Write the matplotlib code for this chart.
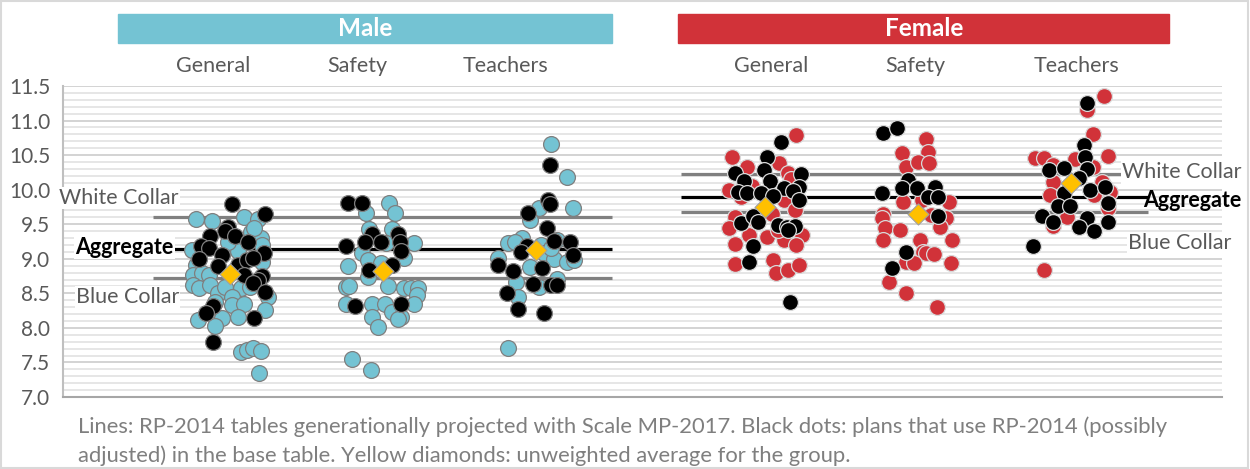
import numpy as np
import matplotlib.pyplot as plt
from matplotlib.patches import Rectangle
from matplotlib.transforms import blended_transform_factory

plt.rcParams['font.family'] = ['Lato', 'DejaVu Sans']

# Grupos y categorias
genders = ['Male', 'Female']
categories = ['General', 'Safety', 'Teachers']

# Lineas de referencia RP-2014 (White Collar, Aggregate, Blue Collar)
male_white, male_agg, male_blue = 9.61, 9.14, 8.72
female_white, female_agg, female_blue = 10.23, 9.90, 9.67

# Promedios no ponderados (rombos amarillos)
male_avg = [8.78, 8.82, 9.13]
female_avg = [9.75, 9.65, 10.10]

# --- Male General ---
mg_col_off = [-0.22, -0.12, 0.09, 0.18, 0.14, 0.20, 0.21, -0.25, 0.05, 0.21, -0.22, -0.24, -0.18, -0.14,
              -0.24, -0.20, -0.13, -0.08, -0.03, 0.07, 0.01, 0.13, 0.25, -0.10, 0.01, 0.09, 0.23, -0.21,
              -0.05, 0.05, -0.10, 0.07, 0.11, 0.15, 0.20, 0.19, -0.01, 0.16]
mg_col_val = [9.58, 9.55, 9.60, 9.58, 9.39, 9.30, 9.20, 9.13, 9.11, 8.95, 8.91, 8.76, 8.79, 8.76,
              8.62, 8.58, 8.62, 8.50, 8.59, 8.58, 8.45, 8.59, 8.45, 8.37, 8.33, 8.34, 8.26, 8.11,
              8.14, 8.16, 8.03, 7.65, 7.68, 7.71, 7.67, 7.35, 9.25, 9.45]
mg_blk_off = [0.01, 0.23, -0.01, -0.03, 0.03, -0.13, 0.12, -0.19, -0.14, 0.22, -0.05, -0.20, -0.08,
              0.05, 0.11, 0.15, 0.09, 0.21, 0.18, 0.15, 0.23, -0.11, -0.16, 0.16, -0.11]
mg_blk_val = [9.80, 9.65, 9.46, 9.40, 9.33, 9.33, 9.24, 9.19, 9.16, 9.09, 9.05, 8.99, 8.90,
              8.91, 8.98, 9.01, 8.76, 8.75, 8.69, 8.65, 8.52, 8.31, 8.22, 8.14, 7.80]

# --- Male Safety ---
ms_col_off = [0.04, -0.11, 0.08, -0.09, 0.06, 0.20, -0.14, 0.02, -0.10, 0.14, -0.23, -0.01, -0.10,
              -0.24, -0.22, 0.03, 0.14, 0.18, 0.23, 0.22, -0.24, -0.07, 0.01, 0.20, 0.06, -0.07,
              0.12, 0.10, -0.03, -0.20, -0.08]
ms_col_val = [9.81, 9.66, 9.66, 9.43, 9.43, 9.23, 9.08, 9.23, 8.98, 9.01, 8.90, 8.94, 8.74,
              8.59, 8.61, 8.61, 8.58, 8.58, 8.58, 8.48, 8.35, 8.35, 8.35, 8.35, 8.23, 8.16,
              8.16, 8.13, 8.01, 7.55, 7.39]
ms_blk_off = [-0.23, -0.14, -0.07, 0.10, -0.24, -0.12, -0.01, 0.11, 0.12, 0.06, -0.09, -0.18, 0.12]
ms_blk_val = [9.81, 9.81, 9.36, 9.36, 9.18, 9.24, 9.24, 9.24, 9.11, 8.91, 8.84, 8.32, 8.35]

# --- Male Teachers ---
mt_col_off = [0.10, 0.20, 0.02, -0.04, 0.24, -0.18, -0.09, 0.03, 0.05, 0.14, 0.12, 0.20, 0.25,
              -0.25, -0.04, -0.13, 0.02, 0.14, -0.12, -0.18, -0.14, 0.10]
mt_col_val = [10.66, 10.18, 9.73, 9.56, 9.73, 9.23, 9.30, 9.20, 9.08, 9.27, 8.99, 8.95, 8.98,
              9.01, 8.88, 8.66, 8.59, 8.71, 8.45, 7.71, 9.25, 9.15]
mt_blk_off = [0.09, 0.08, 0.09, -0.05, 0.07, 0.12, 0.22, -0.06, -0.10, 0.24, -0.25, -0.15, 0.04,
              -0.02, 0.10, 0.14, -0.19, -0.12, 0.05]
mt_blk_val = [10.36, 9.85, 9.80, 9.66, 9.45, 9.26, 9.24, 9.18, 9.10, 9.05, 8.91, 8.82, 8.86,
              8.63, 8.62, 8.62, 8.50, 8.28, 8.21]

# --- Female General ---
fg_col_off = [0.20, -0.22, -0.12, 0.09, 0.15, -0.24, -0.16, 0.12, 0.19, -0.20, -0.24, -0.11, 0.01,
              0.12, 0.24, -0.20, 0.20, 0.08, -0.20, 0.05, 0.07, 0.15, 0.22, -0.09, 0.17, 0.04, -0.06]
fg_col_val = [10.79, 10.47, 10.33, 10.39, 10.24, 9.99, 9.89, 9.85, 9.71, 9.60, 9.44, 9.34, 9.31,
              9.27, 9.34, 9.21, 9.20, 9.42, 8.92, 8.98, 8.79, 8.84, 8.91, 10.05, 10.15, 9.65, 9.55]
fg_blk_off = [0.10, 0.01, -0.20, -0.01, -0.14, 0.03, 0.23, 0.12, 0.22, -0.18, -0.12, -0.03, 0.05,
              0.18, 0.22, -0.16, -0.08, -0.05, 0.08, 0.14, 0.19, 0.15, -0.08, -0.11, 0.16]
fg_blk_val = [10.69, 10.47, 10.24, 10.28, 10.13, 10.13, 10.23, 10.02, 10.04, 9.97, 9.95, 9.95, 9.91,
              9.98, 9.85, 9.52, 9.62, 9.53, 9.49, 9.46, 9.47, 9.42, 9.18, 8.95, 8.37]

# --- Female Safety ---
fs_col_off = [0.05, -0.11, 0.06, -0.08, 0.00, 0.07, -0.10, 0.02, 0.20, -0.23, -0.24, 0.08, 0.18,
              -0.22, -0.12, 0.14, -0.23, 0.01, 0.22, 0.03, 0.05, 0.10, -0.08, -0.03, 0.21, -0.19,
              -0.08, 0.12]
fs_col_val = [10.74, 10.53, 10.55, 10.33, 10.40, 10.38, 9.82, 9.85, 9.82, 9.65, 9.59, 9.63, 9.59,
              9.44, 9.42, 9.46, 9.27, 9.27, 9.27, 9.10, 9.08, 9.07, 8.95, 8.94, 8.94, 8.66,
              8.50, 8.30]
fs_blk_off = [-0.23, -0.14, -0.07, -0.11, -0.01, -0.24, 0.11, 0.06, 0.13, 0.13, -0.08, -0.17]
fs_blk_val = [10.82, 10.89, 10.14, 10.02, 10.02, 9.95, 10.04, 9.90, 9.89, 9.62, 9.10, 8.87]

# --- Female Teachers ---
ft_col_off = [0.21, 0.10, 0.14, 0.24, -0.24, -0.18, 0.02, -0.12, 0.14, -0.12, 0.20, 0.25, -0.14,
              0.15, 0.24, -0.03, -0.12, -0.18]
ft_col_val = [11.36, 11.15, 10.80, 10.49, 10.46, 10.46, 10.44, 10.36, 10.33, 10.11, 10.11, 9.97, 9.92,
              9.92, 9.73, 9.60, 9.47, 8.84]
ft_blk_off = [0.10, 0.08, 0.09, 0.10, -0.15, -0.05, 0.05, 0.12, 0.22, -0.05, 0.24, -0.09, -0.01,
              -0.19, -0.12, 0.10, 0.24, 0.05, 0.15, -0.25]
ft_blk_val = [11.25, 10.65, 10.47, 10.30, 10.28, 10.31, 10.17, 10.00, 10.04, 9.95, 9.81, 9.76, 9.76,
              9.62, 9.53, 9.59, 9.53, 9.46, 9.40, 9.18]

male_pts = [(mg_col_off, mg_col_val, mg_blk_off, mg_blk_val),
            (ms_col_off, ms_col_val, ms_blk_off, ms_blk_val),
            (mt_col_off, mt_col_val, mt_blk_off, mt_blk_val)]
female_pts = [(fg_col_off, fg_col_val, fg_blk_off, fg_blk_val),
              (fs_col_off, fs_col_val, fs_blk_off, fs_blk_val),
              (ft_col_off, ft_col_val, ft_blk_off, ft_blk_val)]

# Colores
teal = '#74C3D3'
red = '#D13239'
gold = '#FFC000'
grey_txt = '#595959'

male_pos = [1.0, 2.0, 3.0]
female_pos = [4.5, 5.5, 6.5]

fig = plt.figure(figsize=(12.5, 4.69), dpi=100)
ax = fig.add_axes([0.0504, 0.1535, 0.9272, 0.6631])
ax.set_xlim(-0.0915, 7.484)
ax.set_ylim(7.0, 11.5)

# Rejilla
ax.set_yticks(np.arange(7.0, 11.51, 0.5))
ax.set_yticks(np.arange(7.0, 11.51, 0.1), minor=True)
ax.set_yticklabels([f'{v:.1f}' for v in np.arange(7.0, 11.51, 0.5)])
ax.grid(axis='y', which='minor', color='#E4E4E4', lw=1.3, zorder=0)
ax.grid(axis='y', which='major', color='#D0D0D0', lw=1.3, zorder=0)
ax.set_axisbelow(True)
ax.set_xticks([])
ax.tick_params(axis='y', which='both', length=0, pad=9, labelsize=15, labelcolor=grey_txt)
for s in ['top', 'right']:
    ax.spines[s].set_visible(False)
ax.spines['left'].set_color('#BFBFBF')
ax.spines['left'].set_linewidth(1.5)
ax.spines['bottom'].set_color('#A6A6A6')
ax.spines['bottom'].set_linewidth(1.5)

# Lineas de referencia
ax.hlines([male_white, male_blue], 0.5, 3.5, color='#808080', lw=2.3, zorder=2)
ax.hlines(male_agg, 0.5, 3.5, color='black', lw=2.3, zorder=2)
ax.hlines([female_white, female_blue], 3.95, 7.0, color='#808080', lw=2.3, zorder=2)
ax.hlines(female_agg, 3.95, 7.0, color='black', lw=2.3, zorder=2)

# Puntos
ms = 130
for pos, (co, cv, bo, bv) in zip(male_pos, male_pts):
    ax.scatter(pos + np.array(co), cv, s=ms, color=teal, edgecolor='#7F7F7F', lw=0.9, zorder=3)
    ax.scatter(pos + np.array(bo), bv, s=ms, color='black', edgecolor='#7F7F7F', lw=0.9, zorder=4)
for pos, (co, cv, bo, bv) in zip(female_pos, female_pts):
    ax.scatter(pos + np.array(co), cv, s=ms, color=red, edgecolor='#D9D9D9', lw=0.9, zorder=3)
    ax.scatter(pos + np.array(bo), bv, s=ms, color='black', edgecolor='#D9D9D9', lw=0.9, zorder=4)
ax.scatter(male_pos + female_pos, male_avg + female_avg, s=115, marker='D', color=gold,
           edgecolor='#A0A0A0', lw=0.8, zorder=5)

# Etiquetas de las lineas
box = dict(facecolor='white', edgecolor='none', pad=1)
fs_lbl = 15.5
ax.text(0.275, 9.88, 'White Collar', ha='center', va='center', fontsize=fs_lbl, color=grey_txt, bbox=box, zorder=6)
ax.text(0.63, male_agg + 0.03, 'Aggregate', ha='right', va='center', fontsize=fs_lbl, fontweight='bold',
        color='black', bbox=box, zorder=6)
ax.text(0.33, 8.45, 'Blue Collar', ha='center', va='center', fontsize=fs_lbl, color=grey_txt, bbox=box, zorder=6)
ax.text(6.83, female_white + 0.02, 'White Collar', ha='left', va='center', fontsize=fs_lbl, color=grey_txt,
        bbox=box, zorder=6)
ax.text(6.97, female_agg - 0.05, 'Aggregate', ha='left', va='center', fontsize=fs_lbl, fontweight='bold',
        color='black', zorder=6)
ax.text(6.87, 9.23, 'Blue Collar', ha='left', va='center', fontsize=fs_lbl, color=grey_txt, bbox=box, zorder=6)

# Encabezados
trans = blended_transform_factory(ax.transData, ax.transAxes)
label_x = [0.89, 1.83, 2.80, 4.54, 5.48, 6.53]
for x, name in zip(label_x, categories * 2):
    ax.text(x, 1.064, name, transform=trans, ha='center', va='center', fontsize=15.5, color=grey_txt)

bars = [(0.268, 3.497, teal, genders[0]), (3.93, 7.14, red, genders[1])]
for x0, x1, c, name in bars:
    ax.add_patch(Rectangle((x0, 1.138), x1 - x0, 0.094, transform=trans, color=c, clip_on=False))
    ax.text((x0 + x1) / 2, 1.185, name, transform=trans, ha='center', va='center', fontsize=17.5,
            fontweight='bold', color='white')

# Nota al pie
fig.text(0.062, 0.09, 'Lines: RP-2014 tables generationally projected with Scale MP-2017. Black dots: plans '
         'that use RP-2014 (possibly', fontsize=15.8, color='#7F7F7F', va='center')
fig.text(0.062, 0.028, 'adjusted) in the base table. Yellow diamonds: unweighted average for the group.',
         fontsize=15.8, color='#7F7F7F', va='center')

# Borde exterior
fig.add_artist(Rectangle((0.001, 0.002), 0.997, 0.995, transform=fig.transFigure, fill=False,
                         edgecolor='#D9D9D9', lw=1.5))

fig.savefig('out.png', dpi=100)
